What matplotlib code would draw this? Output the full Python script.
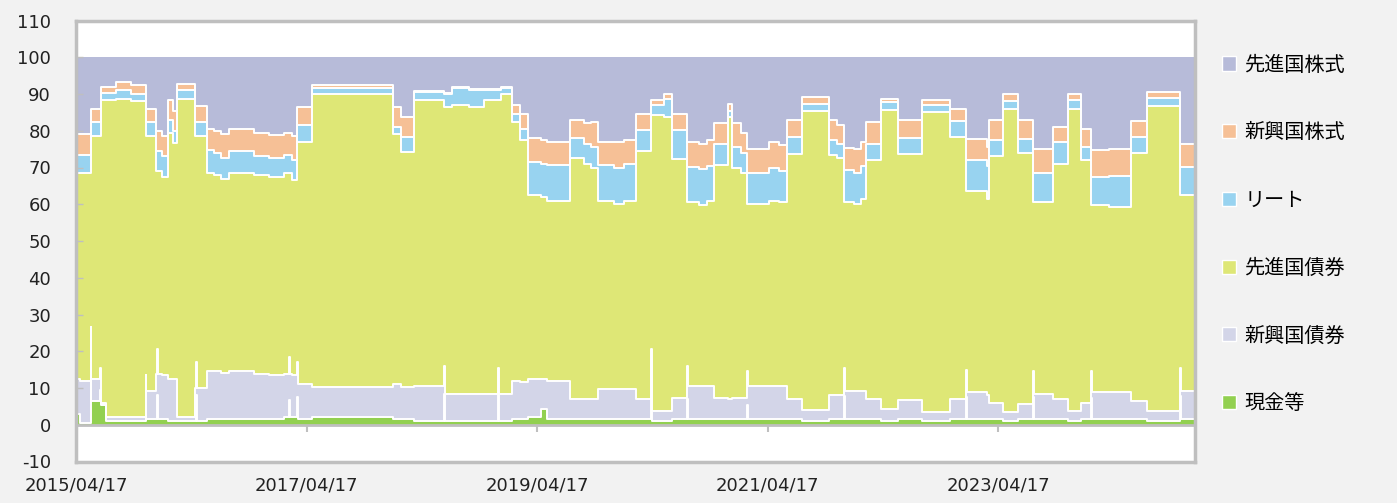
import numpy as np
import pandas as pd
import matplotlib
matplotlib.use("Agg")
import matplotlib.pyplot as plt
from matplotlib.patches import Patch

plt.rcParams["axes.unicode_minus"] = False

# asset classes, bottom of the stack first
labels = ["現金等", "新興国債券", "先進国債券", "リート", "新興国株式", "先進国株式"]
colors = ["#92D050", "#D3D5E8", "#DEE776", "#98D3F0", "#F6C096", "#B7BBD9"]

# allocation (%) from each rebalance date onward
dates = [
    "2015-04-17", "2015-04-30", "2015-06-03", "2015-07-05", "2015-07-21", "2015-08-22",
    "2015-10-08", "2015-11-25", "2015-12-26", "2016-01-14", "2016-02-03", "2016-02-18",
    "2016-03-02", "2016-04-28", "2016-06-05", "2016-06-27", "2016-07-20", "2016-08-14",
    "2016-11-01", "2016-12-19", "2017-02-04", "2017-03-02", "2017-03-17", "2017-05-04",
    "2018-01-16", "2018-02-10", "2018-03-23", "2018-06-26", "2018-07-22", "2018-09-13",
    "2018-10-31", "2018-12-24", "2019-01-28", "2019-02-22", "2019-03-19", "2019-04-30",
    "2019-05-19", "2019-07-30", "2019-09-13", "2019-10-05", "2019-10-27", "2019-12-17",
    "2020-01-18", "2020-02-25", "2020-04-12", "2020-05-23", "2020-06-18", "2020-08-04",
    "2020-09-11", "2020-10-07", "2020-10-29", "2020-12-12", "2020-12-25", "2021-01-22",
    "2021-02-10", "2021-04-21", "2021-05-23", "2021-06-17", "2021-08-04", "2021-10-28",
    "2021-11-23", "2021-12-15", "2022-01-16", "2022-02-07", "2022-02-22", "2022-04-11",
    "2022-06-04", "2022-08-19", "2022-11-16", "2023-01-05", "2023-03-13", "2023-03-19",
    "2023-05-03", "2023-06-19", "2023-08-06", "2023-10-08", "2023-11-25", "2024-01-05",
    "2024-02-06", "2024-04-03", "2024-06-11", "2024-08-01", "2024-11-14",
]
cash = [
    3.0, 0.5, 6.5, 5.5, 1.0, 1.0, 1.0, 1.5, 1.5, 1.5, 1.0, 1.0,
    1.0, 1.0, 1.5, 1.5, 1.5, 1.5, 1.5, 1.5, 2.0, 2.0, 1.5, 2.0,
    1.5, 1.5, 1.0, 1.0, 1.0, 1.0, 1.0, 1.0, 1.5, 1.5, 2.0, 4.3,
    1.5, 1.5, 1.5, 1.5, 1.5, 1.5, 1.5, 1.5, 1.0, 1.0, 1.5, 1.5,
    1.5, 1.5, 1.5, 1.5, 1.5, 1.5, 1.5, 1.5, 1.5, 1.5, 1.0, 1.5,
    1.5, 1.5, 1.5, 1.5, 1.5, 1.0, 1.5, 1.0, 1.5, 1.5, 1.5, 1.5,
    1.0, 1.5, 1.5, 1.5, 1.0, 1.5, 1.5, 1.5, 1.5, 1.0, 1.5,
]
em_bond = [
    9.5, 11.5, 6.0, 0.5, 1.0, 1.0, 1.0, 7.8, 12.3, 12.0, 11.5, 11.5,
    1.0, 9.0, 13.2, 13.0, 12.7, 13.0, 12.3, 12.0, 11.8, 11.5, 9.5, 8.3,
    9.5, 8.7, 9.5, 7.5, 7.5, 7.5, 7.5, 7.5, 10.5, 10.0, 10.4, 8.1,
    10.5, 5.5, 5.5, 5.5, 8.2, 8.2, 8.2, 5.5, 2.8, 2.8, 5.9, 9.0,
    9.0, 9.0, 5.9, 5.5, 5.9, 5.9, 9.0, 9.0, 9.0, 5.5, 3.0, 6.5,
    6.5, 7.8, 7.8, 7.8, 5.5, 3.3, 5.3, 2.6, 5.5, 7.5, 6.5, 4.5,
    2.4, 4.1, 6.9, 5.5, 2.8, 4.5, 7.3, 7.3, 5.0, 2.8, 7.8,
]
dev_bond = [
    56.0, 56.5, 66.2, 82.3, 86.3, 86.7, 86.0, 69.4, 55.2, 54.0, 66.8, 64.1,
    86.7, 68.7, 53.8, 53.5, 52.6, 54.0, 54.2, 54.0, 54.7, 53.0, 66.0, 79.8,
    68.2, 64.0, 77.8, 78.0, 78.5, 78.0, 80.0, 81.5, 70.4, 65.9, 50.1, 49.6,
    49.0, 65.5, 64.0, 63.0, 51.3, 50.3, 51.3, 67.5, 80.4, 79.9, 65.0, 50.0,
    49.3, 50.5, 63.2, 76.7, 62.6, 61.1, 49.6, 50.5, 50.0, 66.8, 81.3, 65.5,
    64.5, 51.2, 50.7, 52.2, 65.0, 81.3, 67.0, 81.4, 71.3, 54.5, 53.5, 67.2,
    82.4, 68.4, 52.1, 64.0, 82.2, 66.0, 50.9, 50.5, 67.5, 82.9, 53.1,
]
reit = [
    5.0, 5.0, 3.7, 2.0, 2.0, 2.3, 2.0, 3.7, 5.5, 5.5, 3.5, 3.4,
    2.3, 3.7, 6.2, 6.0, 5.7, 6.0, 5.0, 5.0, 5.0, 5.5, 4.5, 1.4,
    1.8, 4.1, 2.2, 3.5, 4.5, 4.5, 2.5, 1.5, 2.2, 3.1, 9.0, 9.0,
    9.6, 5.5, 5.5, 5.5, 9.6, 10.0, 10.0, 5.6, 2.7, 5.0, 7.7, 9.6,
    9.7, 9.5, 5.9, 1.8, 5.5, 5.5, 8.4, 9.0, 8.5, 4.5, 2.1, 3.9,
    4.0, 8.7, 8.5, 9.0, 4.5, 2.2, 4.2, 2.1, 4.3, 8.5, 9.0, 4.4,
    2.2, 3.8, 8.0, 6.0, 2.3, 3.6, 7.7, 8.3, 4.3, 2.3, 7.7,
]
em_equity = [
    5.5, 5.5, 3.6, 1.7, 1.7, 2.3, 2.5, 3.6, 5.5, 5.5, 5.5, 5.5,
    1.8, 4.2, 5.8, 6.0, 6.5, 6.0, 6.5, 6.3, 6.0, 6.5, 5.0, 0.9,
    5.5, 5.4, 0.3, 0.3, 0.3, 0.3, 0.3, 0.3, 2.4, 4.1, 6.5, 6.5,
    6.4, 5.0, 5.5, 7.0, 6.4, 7.0, 6.5, 4.5, 1.4, 1.4, 4.5, 6.9,
    7.0, 7.0, 5.5, 1.9, 6.5, 5.5, 6.5, 7.0, 7.0, 4.5, 1.8, 5.4,
    5.0, 6.1, 6.5, 6.5, 6.0, 0.9, 4.8, 1.2, 3.2, 5.8, 5.1, 5.2,
    2.0, 5.2, 6.6, 4.0, 1.8, 5.0, 7.3, 7.4, 4.3, 1.5, 6.4,
]
dev_equity = [
    21.0, 21.0, 14.0, 8.0, 8.0, 6.7, 7.5, 14.0, 20.0, 21.5, 11.7, 14.5,
    7.2, 13.4, 19.5, 20.0, 21.0, 19.5, 20.5, 21.2, 20.5, 21.5, 13.5, 7.6,
    13.5, 16.3, 9.2, 9.7, 8.2, 8.7, 8.7, 8.2, 13.0, 15.4, 22.0, 22.5,
    23.0, 17.0, 18.0, 17.5, 23.0, 23.0, 22.5, 15.4, 11.7, 9.9, 15.4, 23.0,
    23.5, 22.5, 18.0, 12.6, 18.0, 20.5, 25.0, 23.0, 24.0, 17.2, 10.8, 17.2,
    18.5, 24.7, 25.0, 23.0, 17.5, 11.3, 17.2, 11.7, 14.2, 22.2, 24.4, 17.2,
    10.0, 17.0, 24.9, 19.0, 9.9, 19.4, 25.3, 25.0, 17.4, 9.5, 23.5,
]
end_date = "2024-12-31"

# one-day cash spikes (height reached by the top of the EM bond band)
spike_dates = [
    "2015-06-03", "2015-07-02", "2015-11-24", "2015-12-30", "2016-05-01", "2017-02-20",
    "2017-03-17", "2018-06-26", "2018-12-14", "2020-04-12", "2020-08-04", "2021-02-10",
    "2021-12-15", "2023-01-05", "2023-08-06", "2024-02-06", "2024-11-14",
]
spike_tops = [
    26.5, 15.5, 13.5, 20.5, 17.0, 18.5,
    17.0, 16.0, 15.5, 20.5, 16.0, 14.5,
    15.5, 15.0, 14.5, 14.5, 15.5,
]

tick_dates = ["2015-04-17", "2017-04-17", "2019-04-17", "2021-04-17", "2023-04-17"]
tick_labels = ["2015/04/17", "2017/04/17", "2019/04/17", "2021/04/17", "2023/04/17"]

# %%
cols = ["cash", "em_bond", "dev_bond", "reit", "em_equity", "dev_equity"]
df = pd.DataFrame(dict(zip(cols, [cash, em_bond, dev_bond, reit, em_equity, dev_equity])),
                  index=pd.to_datetime(dates))
df.loc[pd.Timestamp(end_date)] = df.iloc[-1]

extra = []
for d, top in zip(pd.to_datetime(spike_dates), spike_tops):
    row = df.asof(d).copy()
    bump = top - (row["cash"] + row["em_bond"])
    row["cash"] += bump
    row["dev_bond"] -= bump
    row.name = d
    after = df.asof(d + pd.Timedelta(days=2)).copy()
    after.name = d + pd.Timedelta(days=2)
    extra += [row, after]
data = pd.concat([df, pd.DataFrame(extra)])
data = data[~data.index.duplicated(keep="last")].sort_index()

cum = data.cumsum(axis=1)
x = data.index

fig = plt.figure(figsize=(13.97, 5.03), dpi=100, facecolor="#F2F2F2")
ax = fig.add_axes([76 / 1397, 41.5 / 503, 1119 / 1397, 441 / 503])
ax.set_facecolor("white")

lower = np.zeros(len(data))
for i, c in enumerate(cols):
    upper = cum[c].values
    ax.fill_between(x, lower, upper, step="post", color=colors[i], linewidth=0)
    lower = upper
for c in cols[:-1]:
    ax.plot(x, cum[c].values, drawstyle="steps-post", color="white", linewidth=1.4)

grey = "#BFBFBF"
ax.axhline(0, color=grey, linewidth=2)
tick_ts = pd.to_datetime(tick_dates)
ax.vlines(tick_ts[1:], -2, 0, color=grey, linewidth=1.5)

ax.set_xlim(pd.Timestamp(dates[0]), pd.Timestamp(end_date))
ax.set_ylim(-10, 110)
ax.set_yticks(np.arange(-10, 111, 10))
ax.set_xticks(tick_ts)
ax.set_xticklabels(tick_labels)
ax.tick_params(axis="x", length=0, pad=11, labelsize=13, labelcolor="#222222")
ax.tick_params(axis="y", direction="in", length=5, color=grey, width=1,
               pad=18, labelsize=13, labelcolor="#222222")
for s in ax.spines.values():
    s.set_color(grey)
    s.set_linewidth(2.5)

handles = [Patch(facecolor=colors[i], edgecolor="white", linewidth=1)
           for i in range(len(cols) - 1, -1, -1)]
fig.legend(handles, labels[::-1], loc="center left", bbox_to_anchor=(0.862, 0.534),
           frameon=False, handlelength=0.7, handleheight=0.7, handletextpad=0.4,
           labelspacing=2.32,
           prop={"family": ["Noto Sans CJK JP", "DejaVu Sans"], "size": 14.5})

fig.savefig("out.png", dpi=100, facecolor=fig.get_facecolor())
